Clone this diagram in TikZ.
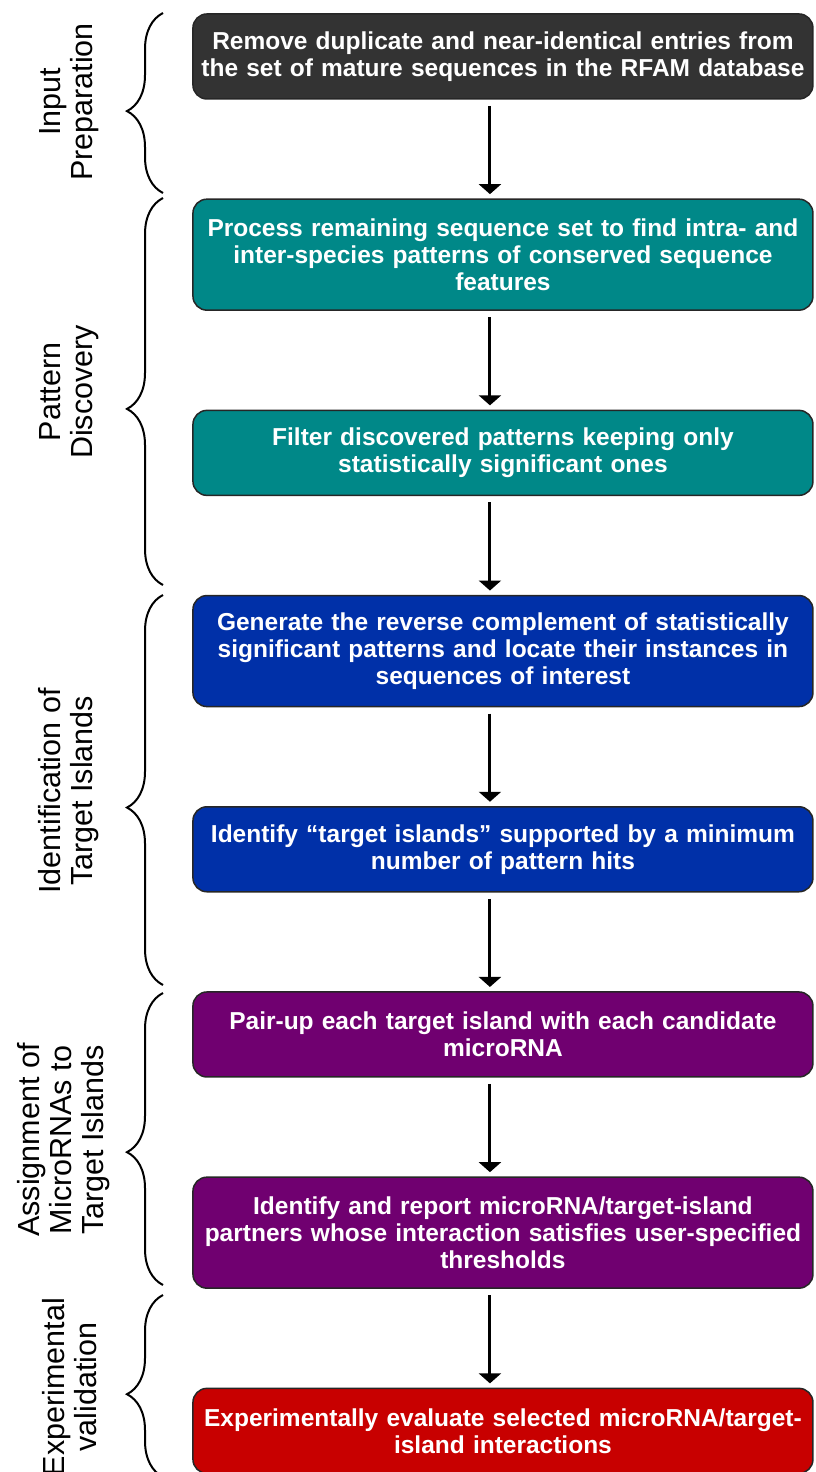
\documentclass[tikz,border=0pt]{standalone}
\usepackage{fontspec}
\setmainfont{Liberation Sans}
\usetikzlibrary{arrows.meta,decorations.pathreplacing}

\definecolor{prepgray}{RGB}{51,51,51}
\definecolor{patteal}{RGB}{0,136,136}
\definecolor{islblue}{RGB}{0,48,168}
\definecolor{assignpurple}{RGB}{112,0,112}
\definecolor{valred}{RGB}{200,0,0}

\begin{document}
\begin{tikzpicture} [
    x=1pt, y=-1pt,
    block/.style    = { rectangle, rounded corners=14pt, draw=black!85,
                        line width=1.5pt, text=white, text width=606pt,
                        inner xsep=7pt, align=center, outer sep=0pt,
                        minimum height=85pt,
                        font=\bfseries\fontsize{24.5}{27}\selectfont },
    tall/.style     = { minimum height=111pt },
    line/.style     = { draw, line width=3pt,
                        -{Triangle[width=22pt,length=10pt]},
                        shorten <=7pt, shorten >=5pt },
    groupbrace/.style = { draw, line width=2pt, decorate,
                        decoration={brace, amplitude=36pt, aspect=0.455} },
    phase/.style    = { rotate=90, align=center,
                        font=\fontsize{30.5}{32}\selectfont },
  ]
  \useasboundingbox (0,0) rectangle (815,1472);

  % Define nodes in matrix
  \matrix [row sep=98.7pt, anchor=north west, inner sep=0pt] at (192,13) {
\node[block, fill=prepgray](remove){Remove duplicate and near-identical entries from\\
the set of mature sequences in the RFAM database}; \\
\node[block, tall, fill=patteal](process){Process remaining sequence set to find intra- and\\
inter-species patterns of conserved sequence\\ features}; \\
\node[block, fill=patteal](filter){Filter discovered patterns keeping only\\
statistically significant ones}; \\
\node[block, tall, fill=islblue](reverse){Generate the reverse complement of statistically\\
significant patterns and locate their instances in\\ sequences of interest}; \\
\node[block, fill=islblue](islands){Identify “target islands” supported by a minimum\\
number of pattern hits}; \\
\node[block, fill=assignpurple](pairup){Pair-up each target island with each candidate\\
microRNA}; \\
\node[block, tall, fill=assignpurple](report){Identify and report microRNA/target-island\\
partners whose interaction satisfies user-specified\\ thresholds}; \\
\node[block, fill=valred](evaluate){Experimentally evaluate selected microRNA/target-\\
island interactions}; \\
  };

  % connect the nodes
		\path [line] ([xshift=-13pt]remove.south) -- ([xshift=-13pt]process.north);
		\path [line] ([xshift=-13pt]process.south) -- ([xshift=-13pt]filter.north);
		\path [line] ([xshift=-13pt]filter.south) -- ([xshift=-13pt]reverse.north);
		\path [line] ([xshift=-13pt]reverse.south) -- ([xshift=-13pt]islands.north);
		\path [line] ([xshift=-13pt]islands.south) -- ([xshift=-13pt]pairup.north);
		\path [line] ([xshift=-13pt]pairup.south) -- ([xshift=-13pt]report.north);
		\path [line] ([xshift=-13pt]report.south) -- ([xshift=-13pt]evaluate.north);

  % braces and stage names
		\coordinate (prepbot) at (163,193);   \coordinate (preptop) at (163,13);
		\coordinate (patbot) at (163,585);    \coordinate (pattop) at (163,198);
		\coordinate (islbot) at (163,985);    \coordinate (isltop) at (163,595);
		\coordinate (asgbot) at (163,1285);   \coordinate (asgtop) at (163,993);
		\coordinate (valbot) at (163,1477);   \coordinate (valtop) at (163,1295);
		\path [groupbrace] (prepbot) -- (preptop);
		\path [groupbrace] (patbot) -- (pattop);
		\path [groupbrace] (islbot) -- (isltop);
		\path [groupbrace] (asgbot) -- (asgtop);
		\path [groupbrace] (valbot) -- (valtop);
		\node[phase](preplab) at (69,102){Input\\ Preparation};
		\node[phase](patlab) at (69,392){Pattern\\ Discovery};
		\node[phase](isllab) at (69,791){Identification of\\ Target Islands};
		\node[phase](asglab) at (64,1140){Assignment of\\ MicroRNAs to\\ Target Islands};
		\node[phase](vallab) at (70,1387){Experimental\\ validation};
\end{tikzpicture}
\end{document}
